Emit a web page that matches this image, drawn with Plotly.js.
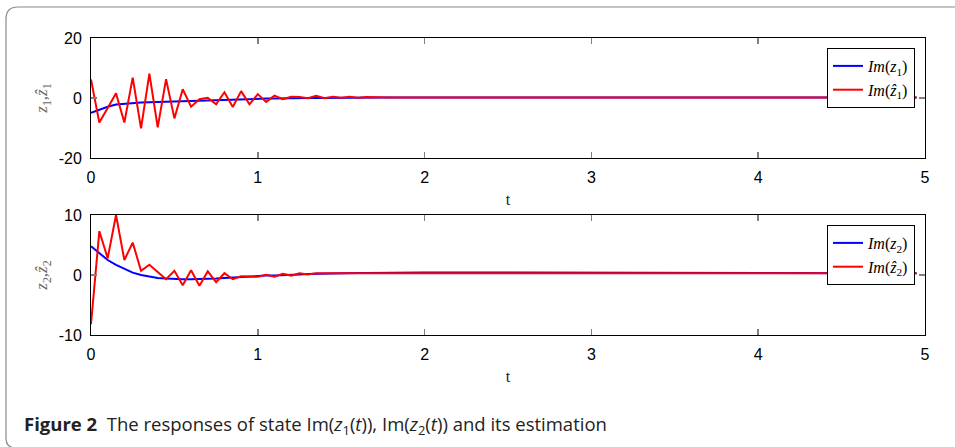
<!DOCTYPE html>
<html>
<head>
<meta charset="utf-8">
<script src="https://cdn.plot.ly/plotly-3.0.1.min.js"></script>
<style>html,body{margin:0;padding:0;background:#fff;}#chart{width:955px;height:447px;}</style>
</head>
<body>
<div id="chart"></div>
<script>
// time samples
const t = [0,0.05,0.1,0.15,0.2,0.25,0.3,0.35,0.4,0.45,0.5,0.55,0.6,0.65,0.7,0.75,0.8,0.85,0.9,0.95,1.0,1.05,1.1,1.15,1.2,1.25,1.3,1.35,1.4,1.45,1.5,1.55,1.6,1.65,1.8,2.0,2.5,3.0,3.5,4.0,4.5,4.95];

// Im(z1) and its estimate
const z1 =    [-4.9,-3.9,-2.9,-2.2,-1.9,-1.7,-1.5,-1.4,-1.3,-1.2,-1.1,-1.0,-0.9,-0.8,-0.8,-0.7,-0.6,-0.5,-0.4,-0.4,-0.3,-0.2,-0.2,-0.1,-0.1,0,0,0,0.05,0.05,0.1,0.1,0.1,0.1,0.2,0.2,0.2,0.2,0.2,0.2,0.2,0.2];
const z1hat = [6.2,-8.2,-3.3,1.6,-8.2,6.8,-10.1,8.1,-9.8,6.3,-6.8,2.9,-2.9,-0.4,0.1,-2.1,1.9,-3.0,2.3,-2.1,1.3,-1.3,0.8,-0.4,0.4,0.3,-0.1,0.7,-0.1,0.4,0.1,0.4,0.1,0.3,0.2,0.2,0.2,0.2,0.2,0.2,0.2,0.2];

// Im(z2) and its estimate
const z2 =    [4.8,3.6,2.5,1.7,1.0,0.4,0.0,-0.3,-0.5,-0.6,-0.7,-0.7,-0.7,-0.7,-0.6,-0.6,-0.5,-0.4,-0.3,-0.3,-0.2,-0.1,-0.1,0,0,0.1,0.15,0.2,0.2,0.25,0.3,0.3,0.35,0.35,0.4,0.4,0.4,0.4,0.35,0.35,0.3,0.3];
const z2hat = [-8.2,7.3,2.8,10.0,2.5,5.4,0.7,1.7,0.5,-0.7,0.7,-1.7,0.8,-1.8,0.6,-1.2,0.3,-0.7,-0.2,-0.2,-0.3,0.05,-0.3,0.2,-0.1,0.3,0.1,0.3,0.3,0.3,0.35,0.35,0.35,0.4,0.4,0.4,0.4,0.4,0.35,0.35,0.3,0.3];

const xTicks = [0,1,2,3,4,5];
const y1Ticks = [-20,0,20];
const y2Ticks = [-10,0,10];

const W = 955, H = 447;
const px = v => v / W;
const py = v => 1 - v / H;

const serif = 'Liberation Serif, DejaVu Serif, serif';
const sans = 'Liberation Sans, Arial, sans-serif';

const traces = [
  {x: t, y: z1, type: 'scatter', mode: 'lines', name: '<i>Im</i>(<i>z</i><sub>1</sub>)', line: {color: '#0000ff', width: 2}, xaxis: 'x', yaxis: 'y', legend: 'legend'},
  {x: t, y: z1hat, type: 'scatter', mode: 'lines', name: '<i>Im</i>(<i>ẑ</i><sub>1</sub>)', line: {color: '#ff0000', width: 2}, xaxis: 'x', yaxis: 'y', legend: 'legend'},
  {x: t, y: z2, type: 'scatter', mode: 'lines', name: '<i>Im</i>(<i>z</i><sub>2</sub>)', line: {color: '#0000ff', width: 2}, xaxis: 'x2', yaxis: 'y2', legend: 'legend2'},
  {x: t, y: z2hat, type: 'scatter', mode: 'lines', name: '<i>Im</i>(<i>ẑ</i><sub>2</sub>)', line: {color: '#ff0000', width: 2}, xaxis: 'x2', yaxis: 'y2', legend: 'legend2'}
];

function xax(anchor) {
  return {
    domain: [px(91), px(925)], anchor: anchor, range: [0, 5],
    tickmode: 'array', tickvals: xTicks, ticktext: xTicks.map(String),
    showline: true, linecolor: '#000', linewidth: 1, mirror: 'ticks',
    ticks: 'inside', ticklen: 6, tickcolor: '#808080', tickwidth: 1.5,
    ticklabelstandoff: 5,
    showgrid: false, zeroline: false,
    tickfont: {family: sans, size: 16, color: '#000'},
    title: {text: 't', font: {family: serif, size: 16, color: '#222'}, standoff: 8}
  };
}
function yax(anchor, dom, rng, ticks, title) {
  return {
    domain: dom, anchor: anchor, range: rng,
    tickmode: 'array', tickvals: ticks, ticktext: ticks.map(String),
    showline: true, linecolor: '#000', linewidth: 1, mirror: 'ticks',
    ticks: 'inside', ticklen: 6, tickcolor: '#808080', tickwidth: 1.5,
    ticklabelstandoff: 5,
    showgrid: false, zeroline: false,
    tickfont: {family: sans, size: 16, color: '#000'},
    title: {text: title, font: {family: serif, size: 17, color: '#666'}, standoff: 6}
  };
}

const legendStyle = (x, y) => ({
  x: x, y: y, xanchor: 'right', yanchor: 'top', xref: 'paper', yref: 'paper',
  bgcolor: '#fff', bordercolor: '#000', borderwidth: 1,
  font: {family: serif, size: 16, color: '#000'},
  tracegroupgap: 0, itemwidth: 30
});

const layout = {
  width: W, height: H,
  margin: {l: 0, r: 0, t: 0, b: 0},
  paper_bgcolor: '#fff', plot_bgcolor: '#fff',
  showlegend: true,
  xaxis: xax('y'),
  yaxis: yax('x', [py(158), py(38)], [-20, 20], y1Ticks, '<i>z</i><sub>1</sub>,<i>ẑ</i><sub>1</sub>'),
  xaxis2: xax('y2'),
  yaxis2: yax('x2', [py(335), py(215)], [-10, 10], y2Ticks, '<i>z</i><sub>2</sub>,<i>ẑ</i><sub>2</sub>'),
  legend: legendStyle(px(915), py(48)),
  legend2: legendStyle(px(915), py(225)),
  shapes: [{
    type: 'path', xref: 'paper', yref: 'paper',
    path: `M ${px(16)},${py(448)} Q ${px(6)},${py(448)} ${px(6)},${py(438)} L ${px(6)},${py(19)} Q ${px(6)},${py(7)} ${px(18)},${py(7)} L ${px(956)},${py(7)}`,
    line: {color: '#8a8a8a', width: 1.2}
  }],
  annotations: [{
    xref: 'paper', yref: 'paper', x: px(22), y: py(425), xanchor: 'left', yanchor: 'middle',
    showarrow: false,
    text: '<b>Figure 2</b>  The responses of state Im(<i>z</i><sub>1</sub>(<i>t</i>)), Im(<i>z</i><sub>2</sub>(<i>t</i>)) and its estimation',
    font: {family: 'Open Sans, Noto Sans, sans-serif', size: 18.5, color: '#222'}
  }]
};

Plotly.newPlot('chart', traces, layout, {displayModeBar: false, staticPlot: true});
</script>
</body>
</html>
